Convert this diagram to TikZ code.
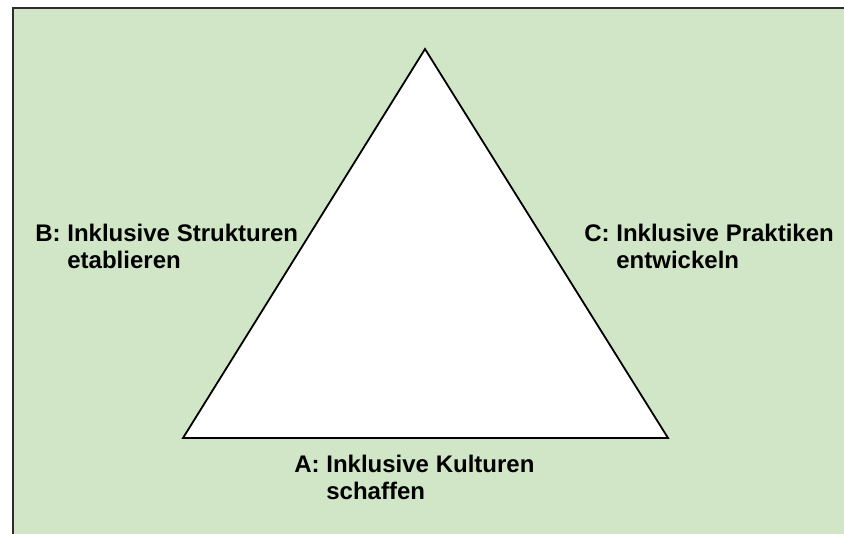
\documentclass[tikz,border=0pt]{standalone}
\usepackage{fontspec}
\setmainfont{Liberation Sans}
\usetikzlibrary{positioning}
\definecolor{bggreen}{RGB}{208,230,198}
\definecolor{framegray}{RGB}{45,45,45}

\begin{document}
\begin{tikzpicture}[x=1pt, y=-1pt, thick, line join=miter,
        lbl/.style={inner sep=0pt, anchor=base west, font=\bfseries\fontsize{24}{26.5}\selectfont}]
        \useasboundingbox (0,0) rectangle (844,534);
        \fill[white] (0,0) rectangle (844,534);
        \draw[framegray, fill=bggreen, line width=2.5pt] (13,8) rectangle (870,560);

        \coordinate (top) at (425,49);
        \coordinate (left) at (183,438);
        \coordinate (right) at (668,438);
        \draw[fill=white, line width=1.8pt] (top) -- (left) -- (right) -- cycle;

        \node[lbl] (b) at (35,242) {\begin{tabular}[t]{@{}l@{ }l}B: & Inklusive Strukturen\\ & etablieren\end{tabular}};
        \node[lbl] (c) at (584,242) {\begin{tabular}[t]{@{}l@{ }l}C: & Inklusive Praktiken\\ & entwickeln\end{tabular}};
        \node[lbl] (a) at (294,473) {\begin{tabular}[t]{@{}l@{ }l}A: & Inklusive Kulturen\\ & schaffen\end{tabular}};
    \end{tikzpicture}
\end{document}
